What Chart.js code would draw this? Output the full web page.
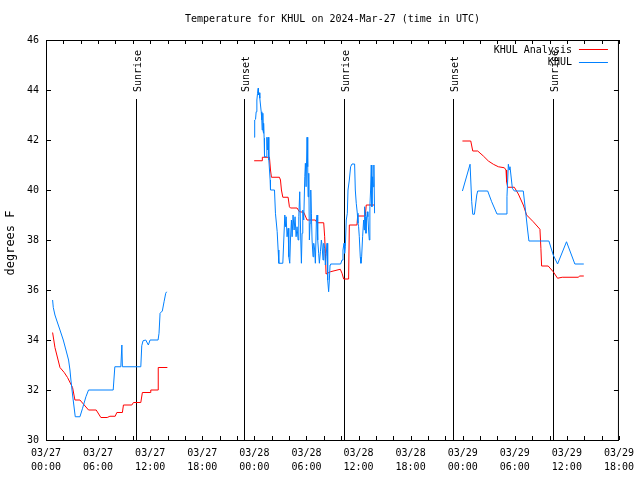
<!DOCTYPE html>
<html>
<head>
<meta charset="utf-8">
<title>Temperature for KHUL</title>
<script src="https://cdn.jsdelivr.net/npm/chart.js@4"></script>
<style>
  html, body { margin: 0; padding: 0; background: #fff; }
  #chart { display: block; }
</style>
</head>
<body>
<canvas id="chart" width="640" height="480"></canvas>
<script>
// times are hours since 03/27 00:00 UTC, null marks a gap in the data
const analysisHours = [
  0.76, 1.03, 1.61, 2.10, 2.48, 3.06, 3.33, 3.91, 4.90, 5.78, 6.32, 7.05, 7.36, 7.97, 8.16, 8.80,
  8.92, 9.89, 10.07, 10.92, 11.10, 11.99, 12.07, 12.91, 12.93, 13.98,
  null,
  23.98, 24.90, 24.92, 25.74, 25.86, 25.97, 26.89, 27.01, 27.12, 27.28, 27.89, 28.04, 28.16, 28.92,
  29.19, 29.69, 30.07, 31.03, 31.22, 31.99, 32.10, 32.18, 32.26, 32.76, 33.90, 34.10, 34.29, 34.86,
  34.94, 35.82, 35.90, 36.78, 36.89, 37.85,
  null,
  47.97, 48.93, 49.16, 49.73, 50.38, 50.96, 51.53, 52.11, 52.80, 52.99, 53.06, 53.18, 53.95, 54.41,
  54.98, 55.36, 56.13, 56.90, 57.01, 57.09, 57.85, 58.43, 58.93, 59.46, 61.30, 61.49, 61.95
];
const analysisTemps = [
  34.3, 33.7, 32.9, 32.7, 32.5, 32.1, 31.6, 31.6, 31.2, 31.2, 30.9, 30.9, 30.95, 30.95, 31.1, 31.1,
  31.4, 31.4, 31.5, 31.5, 31.9, 31.9, 32.0, 32.0, 32.9, 32.9,
  null,
  41.17, 41.17, 41.31, 41.31, 40.8, 40.51, 40.51, 40.4, 40.0, 39.71, 39.71, 39.33, 39.28, 39.28,
  39.13, 39.11, 38.8, 38.8, 38.69, 38.69, 38.13, 37.47, 36.64, 36.73, 36.83, 36.67, 36.44, 36.44,
  38.6, 38.6, 38.96, 38.96, 39.4, 39.4,
  null,
  41.96, 41.96, 41.56, 41.56, 41.36, 41.16, 41.03, 40.93, 40.89, 40.8, 40.33, 40.11, 40.11, 39.84,
  39.4, 39.0, 38.73, 38.43, 37.67, 36.96, 36.96, 36.73, 36.47, 36.51, 36.51, 36.56, 36.56
];

const obsHours = [
  0.76, 0.84, 1.03, 1.22, 1.61, 1.99, 2.30, 2.60, 2.76, 2.87, 3.06, 3.37, 3.91, 4.21, 4.60, 4.90,
  7.74, 7.93, 8.62, 8.74, 8.80, 10.92, 11.03, 11.18, 11.49, 11.79, 11.99, 12.91, 13.02, 13.14,
  13.40, 13.60, 13.79, 13.90,
  null,
  23.98, 24.02, 24.06, 24.14, 24.21, 24.29, 24.37, 24.44, 24.48, 24.56, 24.63, 24.71, 24.79, 24.86,
  24.90, 24.98, 25.02, 25.05, 25.09, 25.13, 25.17, 25.36, 25.44, 25.51, 25.59, 25.67, 25.82, 25.86,
  26.32, 26.43, 26.63, 26.74, 26.82, 27.28, 27.39, 27.51, 27.58, 27.66, 27.77, 27.89, 27.97, 28.08,
  28.16, 28.27, 28.35, 28.46, 28.58, 28.69, 28.81, 28.92, 29.04, 29.12, 29.23, 29.35, 29.42, 29.50,
  29.58, 29.69, 29.81, 29.88, 29.96, 30.07, 30.15, 30.19, 30.27, 30.34, 30.42, 30.50, 30.57, 30.65,
  30.76, 30.84, 30.95, 31.03, 31.15, 31.22, 31.30, 31.41, 31.49, 31.61, 31.72, 31.80, 31.91, 31.99,
  32.10, 32.18, 32.26, 32.37, 32.45, 32.56, 32.64, 32.72, 32.79, 33.94, 34.10, 34.21, 34.33, 34.40,
  34.48, 34.59, 34.71, 34.79, 34.94, 35.09, 35.25, 35.55, 35.63, 35.74, 35.86, 35.94, 36.01, 36.09,
  36.20, 36.28, 36.36, 36.47, 36.59, 36.66, 36.70, 36.78, 36.86, 36.93, 37.01, 37.08, 37.16, 37.24,
  37.31, 37.39, 37.47, 37.54, 37.62, 37.70, 37.77, 37.85,
  null,
  47.97, 48.85, 48.93, 49.04, 49.16, 49.35, 49.62, 49.73, 50.88, 51.34, 51.95, 52.99, 53.10, 53.26,
  53.37, 53.45, 53.72, 53.95, 54.98, 55.25, 55.48, 55.63, 57.93, 58.43, 58.93, 59.96, 60.92, 61.95
];
const obsTemps = [
  35.6, 35.3, 35.0, 34.8, 34.4, 34.0, 33.6, 33.2, 32.8, 32.4, 31.8, 30.93, 30.93, 31.27, 31.73, 32.0,
  32.0, 32.93, 32.93, 33.8, 32.93, 32.93, 33.77, 33.97, 34.0, 33.8, 34.0, 34.0, 34.27, 35.07,
  35.16, 35.53, 35.87, 35.93,
  null,
  42.11, 42.4, 42.8, 42.83, 43.13, 43.6, 43.87, 44.07, 43.8, 43.89, 43.67, 43.4, 43.13, 42.8,
  42.4, 43.07, 42.33, 42.27, 42.67, 42.07, 41.33, 41.33, 42.11, 41.6, 42.11, 41.2, 40.4, 40.0,
  40.0, 39.07, 38.33, 37.6, 37.07, 37.07, 38.0, 39.0, 38.53, 38.93, 38.13, 38.47, 37.33, 37.07,
  38.0, 38.8, 38.13, 39.0, 38.4, 38.93, 38.13, 38.53, 38.0, 38.93, 39.93, 38.0, 37.07, 38.27,
  39.2, 38.8, 40.53, 41.07, 40.13, 42.11, 40.93, 39.73, 40.67, 38.0, 38.67, 40.0, 39.07, 38.0,
  37.33, 37.87, 37.6, 37.07, 38.8, 39.0, 38.0, 37.47, 37.07, 37.53, 38.0, 37.8, 37.2, 37.87,
  37.67, 37.0, 37.33, 37.87, 36.4, 35.93, 36.4, 37.0, 37.04, 37.04, 37.2, 37.6, 37.87, 37.47,
  37.73, 38.8, 39.07, 40.0, 40.4, 40.93, 41.04, 41.04, 40.0, 39.47, 39.07, 38.67, 38.53, 38.13,
  37.33, 37.07, 37.33, 38.13, 38.8, 38.4, 39.33, 38.93, 38.27, 38.8, 39.13, 38.93, 38.4, 38.0,
  39.33, 40.0, 41.0, 39.33, 40.53, 40.13, 41.0, 39.07,
  null,
  39.96, 41.03, 41.03, 39.53, 39.03, 39.03, 39.8, 39.96, 39.96, 39.53, 39.04, 39.04, 39.73, 41.03,
  40.8, 40.93, 40.07, 39.96, 39.96, 39.13, 38.4, 37.96, 37.96, 37.4, 37.04, 37.93, 37.04, 37.04
];

const dayLabels = ['03/27', '03/28', '03/29'];
const eventHours = [10.35, 22.85, 34.35, 46.88, 58.38];
const eventLabels = ['Sunrise', 'Sunset', 'Sunrise', 'Sunset', 'Sunrise'];
const titleText = 'Temperature for KHUL on 2024-Mar-27 (time in UTC)';
const yTitle = 'degrees F';

const mono = '"DejaVu Sans Mono", "Liberation Mono", monospace';
const monoFont = { family: mono, size: 10, lineHeight: 1.4 };

function toPoints(hours, temps) {
  return hours.map((h, i) => ({ x: h === null ? hours[i - 1] : h, y: temps[i] }));
}

function pad2(n) {
  return String(n).padStart(2, '0');
}

// gnuplot look: frame, inward ticks, sun lines, title and legend
const gnuplotLook = {
  id: 'gnuplotLook',
  beforeDatasetsDraw(chart) {
    const { ctx, chartArea: a, scales: { x } } = chart;
    ctx.save();
    ctx.strokeStyle = '#000';
    ctx.fillStyle = '#000';
    ctx.lineWidth = 1;
    ctx.font = '10px ' + mono;
    eventHours.forEach((h, i) => {
      const px = Math.round(x.getPixelForValue(h)) + 0.5;
      ctx.beginPath();
      ctx.moveTo(px, a.top + 59);
      ctx.lineTo(px, a.bottom);
      ctx.stroke();
      ctx.save();
      ctx.translate(px + 2, a.top + 52);
      ctx.rotate(-Math.PI / 2);
      ctx.textAlign = 'left';
      ctx.textBaseline = 'middle';
      ctx.fillText(eventLabels[i], 0, 0);
      ctx.restore();
    });
    ctx.restore();
  },
  afterDatasetsDraw(chart) {
    const { ctx, chartArea: a, scales: { x, y } } = chart;
    ctx.save();
    ctx.strokeStyle = '#000';
    ctx.lineWidth = 1;
    ctx.beginPath();
    x.ticks.forEach(t => {
      const px = Math.round(x.getPixelForValue(t.value)) + 0.5;
      ctx.moveTo(px, a.bottom);
      ctx.lineTo(px, a.bottom - 4);
      ctx.moveTo(px, a.top);
      ctx.lineTo(px, a.top + 4);
    });
    y.ticks.forEach(t => {
      const py = Math.round(y.getPixelForValue(t.value)) + 0.5;
      ctx.moveTo(a.left, py);
      ctx.lineTo(a.left + 5, py);
      ctx.moveTo(a.right, py);
      ctx.lineTo(a.right - 5, py);
    });
    ctx.stroke();
    ctx.strokeRect(a.left + 0.5, a.top + 0.5, a.right - a.left - 1, a.bottom - a.top);
    ctx.restore();
  },
  afterDraw(chart) {
    const { ctx, chartArea: a } = chart;
    ctx.save();
    ctx.fillStyle = '#000';
    ctx.font = '10px ' + mono;
    ctx.textBaseline = 'middle';
    ctx.textAlign = 'center';
    ctx.fillText(titleText, (a.left + a.right) / 2, 19);

    ctx.save();
    ctx.translate(11, 243);
    ctx.rotate(-Math.PI / 2);
    ctx.font = '12px ' + mono;
    ctx.fillText(yTitle, 0, 0);
    ctx.restore();

    ctx.textAlign = 'right';
    chart.data.datasets.forEach((ds, i) => {
      const ly = a.top + 10 + i * 12.5;
      ctx.fillText(ds.label, a.right - 47, ly);
      ctx.strokeStyle = ds.borderColor;
      ctx.lineWidth = 1;
      ctx.beginPath();
      ctx.moveTo(a.right - 40, Math.round(ly) - 0.5);
      ctx.lineTo(a.right - 11, Math.round(ly) - 0.5);
      ctx.stroke();
    });
    ctx.restore();
  }
};

new Chart(document.getElementById('chart'), {
  type: 'line',
  data: {
    datasets: [
      {
        label: 'KHUL Analysis',
        data: toPoints(analysisHours, analysisTemps),
        borderColor: '#ff0000',
        borderWidth: 1,
        pointRadius: 0,
        tension: 0,
        order: 1
      },
      {
        label: 'KHUL',
        data: toPoints(obsHours, obsTemps),
        borderColor: '#0080ff',
        borderWidth: 1,
        pointRadius: 0,
        tension: 0,
        order: 0
      }
    ]
  },
  options: {
    responsive: false,
    animation: false,
    events: [],
    layout: { padding: { top: 40, right: 19, left: 0, bottom: 0 } },
    plugins: {
      legend: { display: false },
      title: { display: false },
      tooltip: { enabled: false }
    },
    scales: {
      x: {
        type: 'linear',
        min: 0,
        max: 66,
        afterFit: s => { s.height = 40; },
        grid: { display: false, drawTicks: false },
        border: { display: false },
        ticks: {
          stepSize: 2,
          autoSkip: false,
          maxRotation: 0,
          padding: 6,
          color: '#000',
          font: monoFont,
          callback: v => v % 6 === 0 ? [dayLabels[Math.floor(v / 24)], pad2(v % 24) + ':00'] : ''
        }
      },
      y: {
        min: 30,
        max: 46,
        afterFit: s => { s.width = 46; },
        grid: { display: false, drawTicks: false },
        border: { display: false },
        ticks: { stepSize: 2, padding: 7, color: '#000', font: monoFont }
      }
    }
  },
  plugins: [gnuplotLook]
});
</script>
</body>
</html>
